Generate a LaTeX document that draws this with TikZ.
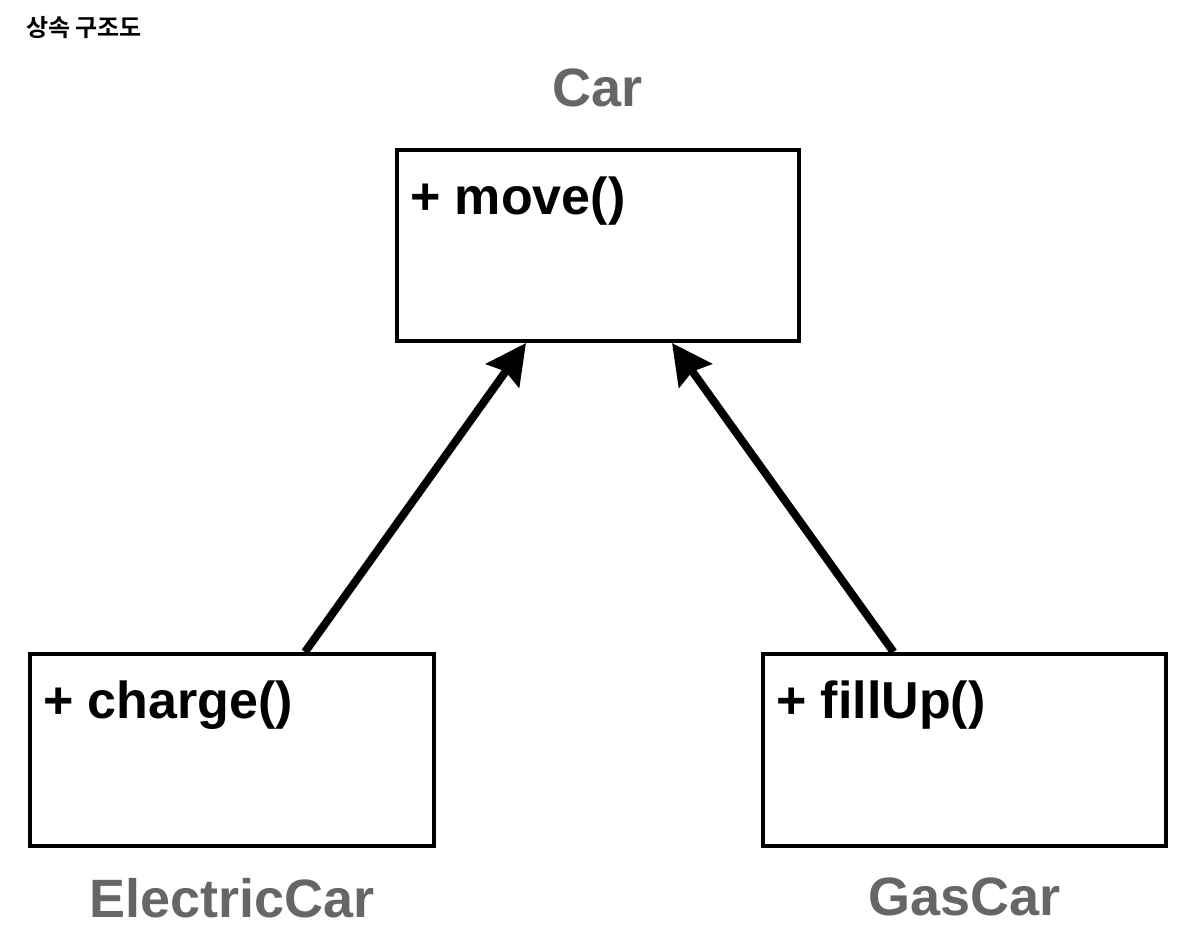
\documentclass[tikz,border=0pt]{standalone}
\usepackage{fontspec}
\setmainfont{Liberation Sans}
\newfontfamily\krfont{Noto Sans CJK KR}[BoldFont={* Bold}]
\usetikzlibrary{positioning, arrows.meta}

\definecolor{labelgray}{RGB}{102,102,102}

\begin{document}
\begin{tikzpicture}[
x=1pt, y=1pt,
class/.style={
	rectangle,
	draw,
	line width=4pt,
	minimum width=402pt,
	minimum height=191pt,
	inner sep=0pt
},
method/.style={
	inner sep=0pt,
	anchor=base west,
	font=\fontsize{52}{60}\selectfont\bfseries
},
classname/.style={
	inner sep=0pt,
	text=labelgray,
	font=\fontsize{54}{62}\selectfont\bfseries
},
line/.style={
	draw, line width=8pt, -{Stealth[length=40pt, width=40pt, inset=5pt]}
}
]
\useasboundingbox (0,0) rectangle (1192,950);

% Title
\node[anchor=west, inner sep=0pt, font=\krfont\bfseries\fontsize{24}{28}\selectfont] (title) at (26,922) {상속 구조도};

% Classes
\node[class] (car) at (598,704.5) {};
\node[class, minimum width=404pt, minimum height=192pt] (electric) at (232,200) {};
\node[class, minimum width=403pt, minimum height=192pt] (gas) at (964.5,200) {};

% Methods
\node[method] (move) at ([shift={(15pt,-67pt)}]car.north west) {+ move()};
\node[method] (charge) at ([shift={(15pt,-67pt)}]electric.north west) {+ charge()};
\node[method] (fillup) at ([shift={(15pt,-67pt)}]gas.north west) {+ fillUp()};

% Class names
\node[classname, above=41pt of car] (carname) {Car};
\node[classname, below=30pt of electric] (electricname) {ElectricCar};
\node[classname, below=30pt of gas] (gasname) {GasCar};

% Lines
\draw[line] ([xshift=73pt]electric.north) -- ([xshift=-72pt]car.south);
\draw[line] ([xshift=-71pt]gas.north) -- ([xshift=74pt]car.south);

\end{tikzpicture}
\end{document}
